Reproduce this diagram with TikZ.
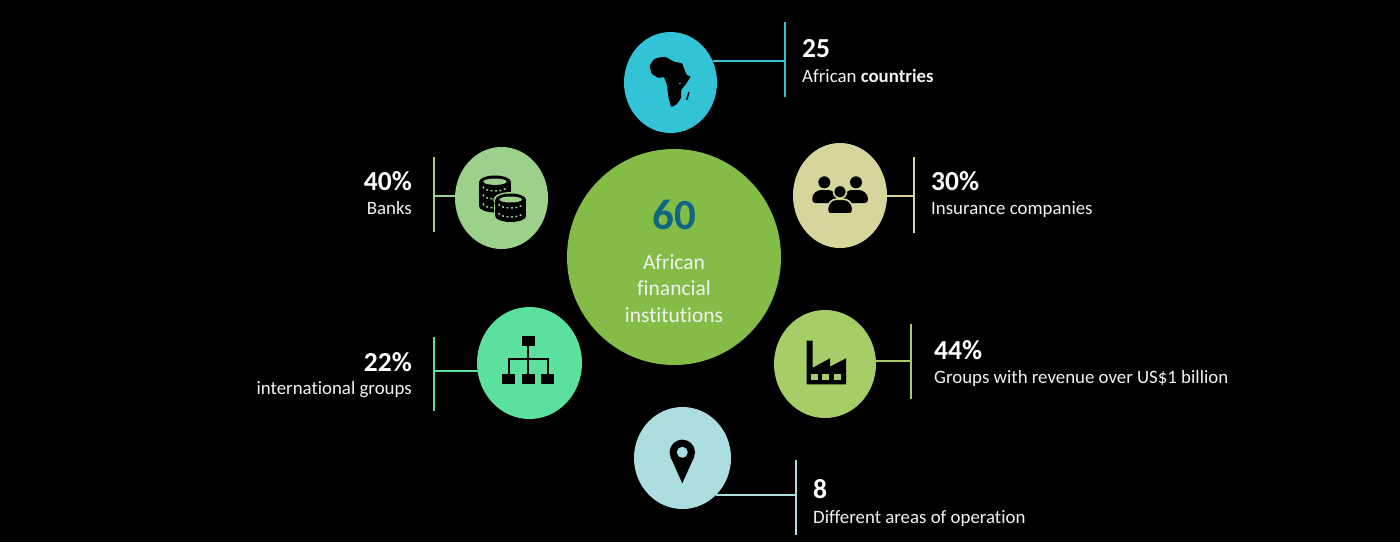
\documentclass[tikz,border=0pt]{standalone}
\usepackage{fontspec}
\setmainfont{Carlito}[Ligatures=NoCommon]
\definecolor{cCenter}{HTML}{84BC48}
\definecolor{cAfrica}{HTML}{33C3D6}
\definecolor{cBanks}{HTML}{9BD18B}
\definecolor{cIns}{HTML}{D6D69C}
\definecolor{cIntl}{HTML}{5CE09E}
\definecolor{cFact}{HTML}{A6CE68}
\definecolor{cPin}{HTML}{ACDDE0}
\definecolor{cSixty}{HTML}{0F6680}
\definecolor{cText}{HTML}{F2F2F2}
\usetikzlibrary{shapes.geometric}
\tikzset{
  blob/.style={ellipse,inner sep=0pt,outer sep=0pt,draw=none,fill=#1},
  bar/.style={line width=2pt,draw=#1},
  big/.style={text=white,font=\fontsize{27.5}{30}\selectfont\bfseries,inner sep=0pt},
  small/.style={text=cText,font=\fontsize{18.85}{22}\selectfont,inner sep=0pt},
  midtext/.style={text=cText,font=\fontsize{21.5}{24}\selectfont,inner sep=0pt,anchor=base},
}
\begin{document}
\begin{tikzpicture}[x=1pt,y=-1pt]
\fill[black] (0,0) rectangle (1400,542);
\useasboundingbox (0,0) rectangle (1400,542);
% circles
\node[blob=cCenter,minimum width=214pt,minimum height=216pt] (hub) at (674,257) {};
\node[blob=cAfrica,minimum width=93pt,minimum height=101pt] (afr) at (670.5,82.5) {};
\node[blob=cBanks,minimum width=93pt,minimum height=102pt] (bnk) at (501.5,198) {};
\node[blob=cIns,minimum width=94pt,minimum height=105pt] (ins) at (840,195.5) {};
\node[blob=cIntl,minimum width=105pt,minimum height=112pt] (itl) at (529.5,363) {};
\node[blob=cFact,minimum width=102pt,minimum height=108pt] (fac) at (825,364) {};
\node[blob=cPin,minimum width=97pt,minimum height=102pt] (pin) at (682.5,458) {};
% bars
\coordinate (afrT) at (785,22); \coordinate (afrB) at (785,97);
\coordinate (bnkT) at (434,157); \coordinate (bnkB) at (434,232);
\coordinate (insT) at (913.5,157); \coordinate (insB) at (913.5,233);
\coordinate (itlT) at (434,337); \coordinate (itlB) at (434,411);
\coordinate (facT) at (911,324); \coordinate (facB) at (911,399);
\coordinate (pinT) at (795.5,460); \coordinate (pinB) at (795.5,535);
\draw[bar=cAfrica] (afrT) -- (afrB) (afr.27) -- (afr.27 -| afrT);
\draw[bar=cBanks] (bnkT) -- (bnkB) (bnk.178) -- (bnk.178 -| bnkT);
\draw[bar=cIns] (insT) -- (insB) (ins.east) -- (ins.east -| insT);
\draw[bar=cIntl] (itlT) -- (itlB) (itl.189) -- (itl.189 -| itlT);
\draw[bar=cFact] (facT) -- (facB) (fac.3) -- (fac.3 -| facT);
\draw[bar=cPin] (pinT) -- (pinB) (pin.-48) -- (pin.-48 -| pinT);
% hub text
\node[text=cSixty,font=\fontsize{43}{46}\selectfont\bfseries,inner sep=0pt,anchor=base] (n60) at (674,229) {60};
\node[midtext] (h1) at (674,269) {African};
\node[midtext] (h2) at (674,295.5) {financial};
\node[midtext] (h3) at (674,322) {institutions};
% labels
\node[big,anchor=base west] (t25) at (802,57) {25};
\node[small,anchor=base west] (l25) at (802,82) {African \textbf{countries}};
\node[big,anchor=base east] (t40) at (412,190) {40\%};
\node[small,anchor=base east] (l40) at (412,214) {Banks};
\node[big,anchor=base west] (t30) at (931,190) {30\%};
\node[small,anchor=base west] (l30) at (931,214) {Insurance companies};
\node[big,anchor=base east] (t22) at (412,371) {22\%};
\node[small,anchor=base east] (l22) at (412,394) {international groups};
\node[big,anchor=base west] (t44) at (934,359) {44\%};
\node[small,anchor=base west] (l44) at (934,383) {Groups with revenue over US\$1 billion};
\node[big,anchor=base west] (t8) at (813,498) {8};
\node[small,anchor=base west] (l8) at (813,523) {Different areas of operation};
% africa icon
\fill[black,rounded corners=1pt] (649.5,66) -- (654,59) -- (661,57) -- (666,57) -- (670,59.5) -- (675,62) -- (682,63) -- (685,71) -- (687,75.5) -- (691,76) -- (686,84) -- (681,90) -- (681,98.3) -- (676,105) -- (671,107) -- (668.3,96.7) -- (667,85) -- (664,77) -- (658.3,78) -- (651.7,74) -- cycle;
\fill[black] (688.5,91.5) -- (689.5,92.5) -- (687.5,100) -- (686,99.5) -- cycle;
\fill[cAfrica] (680,83.5) circle[radius=0.9];
% coins icon
\foreach \cx/\cy/\rim in {495/199/207.5, 495/190/198, 495/182/190}{
  \fill[black] (\cx,\cy+7) ellipse[x radius=16,y radius=6.5];
  \fill[black] (\cx-16,\cy) rectangle (\cx+16,\cy+7);
  \fill[black] (\cx,\cy) ellipse[x radius=16,y radius=6.5];
  \draw[cBanks,line width=1.4pt,dash pattern=on 2pt off 2.5pt] (\cx-12,\cy+4.5) arc[x radius=12,y radius=4.5,start angle=180,end angle=0];
}
\fill[cBanks] (495,181.7) ellipse[x radius=11.7,y radius=3.2];
\fill[cBanks] (510.7,200) ellipse[x radius=17.5,y radius=8];
\fill[cBanks] (493.5,204) rectangle (527.5,212);
\foreach \cx/\cy in {510.7/209, 510.7/200}{
  \fill[black] (\cx,\cy+7) ellipse[x radius=15.5,y radius=6];
  \fill[black] (\cx-15.5,\cy) rectangle (\cx+15.5,\cy+7);
  \fill[black] (\cx,\cy) ellipse[x radius=15.5,y radius=6.5];
  \draw[cBanks,line width=1.4pt,dash pattern=on 2pt off 2.5pt] (\cx-12,\cy+4) arc[x radius=12,y radius=4,start angle=180,end angle=0];
}
\fill[cBanks] (510.7,199.5) ellipse[x radius=11.2,y radius=3];
% people icon
\fill[black] (824.3,182.3) circle[radius=6];
\fill[black] (856,182.3) circle[radius=6];
\fill[black,rounded corners=3pt] (812.3,203) -- (812.3,195) -- (818,190) -- (831,190) -- (838,195) -- (836,203) -- cycle;
\fill[black,rounded corners=3pt] (867.8,203) -- (867.8,195) -- (862,190) -- (849,190) -- (842,195) -- (844,203) -- cycle;
\fill[black,draw=cIns,line width=1.6pt] (840,191.7) circle[radius=6.5];
\fill[black,draw=cIns,line width=1.6pt,rounded corners=3pt] (827.6,214) -- (827.6,205) -- (833,199.2) -- (847,199.2) -- (852.6,205) -- (852.6,214) -- cycle;
% hierarchy icon
\fill[black] (521.7,336) rectangle (535,345.7);
\fill[black] (502,374.3) rectangle (515.3,384.3);
\fill[black] (521.7,374.3) rectangle (535,384.3);
\fill[black] (541,374.3) rectangle (554.3,384.3);
\draw[black,line width=1.7pt] (528.3,345) -- (528.3,375);
\draw[black,line width=1.7pt] (508.7,375) -- (508.7,359.3) -- (548,359.3) -- (548,375);
% factory icon
\fill[black] (806.7,340.7) -- (812.7,340.7) -- (812.7,367.7) -- (830,358.3) -- (830,366.7) -- (846,358.3) -- (846,384.3) -- (806.7,384.3) -- cycle;
\fill[cFact] (810.7,374.3) rectangle (817.7,380);
\fill[cFact] (822.3,374.3) rectangle (829.3,380);
\fill[cFact] (834.3,374.3) rectangle (841.3,380);
% pin icon
\fill[black] (682.3,452.3) circle[radius=12.7];
\fill[black] (682.3,483.3) -- (670.6,457.2) -- (694,457.2) -- cycle;
\fill[cPin] (682.3,452.3) circle[radius=5.5];
\end{tikzpicture}
\end{document}
